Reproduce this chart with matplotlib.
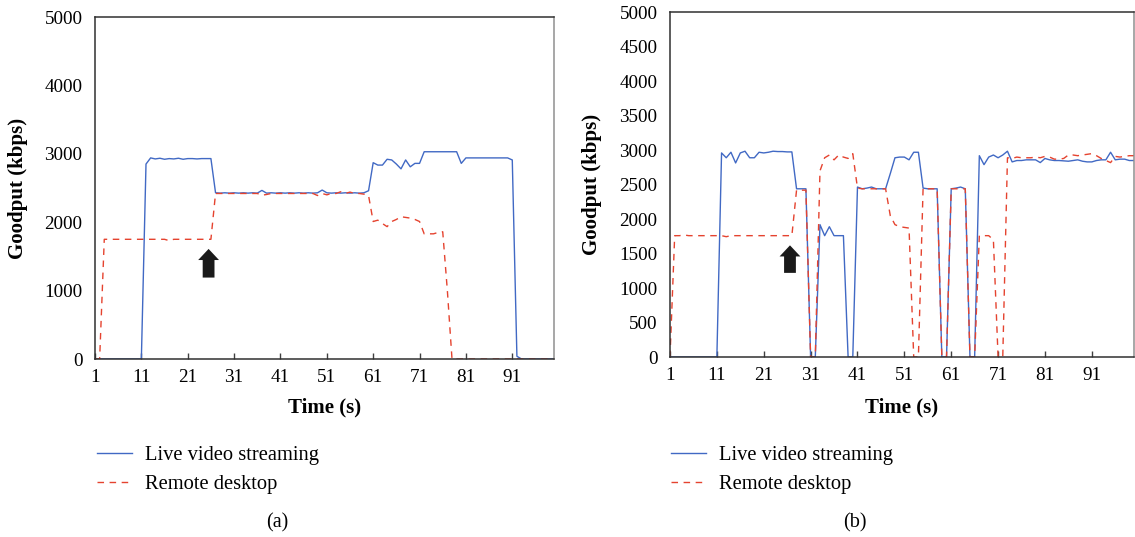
import numpy as np
import matplotlib
matplotlib.use('Agg')
import matplotlib.pyplot as plt
from matplotlib.patches import FancyArrowPatch

plt.rcParams['font.family'] = ['Liberation Serif', 'DejaVu Serif']

# time axis (s)
time = np.arange(1, 101)

# panel (a) goodput, kbps
video_a = ([0] * 11 +
           [2850, 2940, 2925, 2935, 2920, 2930, 2925, 2935, 2920, 2930,
            2930, 2925, 2930, 2930, 2930,
            2430, 2425, 2430, 2425, 2430, 2425, 2430, 2425, 2430, 2425,
            2465, 2425, 2430, 2425, 2430, 2425, 2430, 2425, 2430, 2425,
            2430, 2425, 2430, 2470, 2430, 2425, 2430, 2425, 2430, 2425,
            2430, 2425, 2430,
            2460, 2870, 2835, 2835, 2920, 2910, 2850, 2780, 2910, 2810,
            2860, 2860, 3030, 3030, 3030, 3030, 3030, 3030, 3030, 3030,
            2860, 2940, 2940, 2940, 2940, 2940, 2940, 2940, 2940, 2940,
            2940, 2910, 40] +
           [0] * 8)
desktop_a = ([0, 0, 1750] + [1750] * 13 + [1730] + [1750] * 9 +
             [2420] * 10 + [2395, 2405] + [2420] * 10 +
             [2390, 2420, 2400, 2420, 2420, 2445, 2420, 2440, 2420, 2420,
              2410, 2390, 2010, 2030, 1980, 1935, 2010, 2040, 2080, 2070,
              2060, 2040, 2010, 1830, 1830, 1830, 1850, 1860, 1000] +
             [0] * 23)

# panel (b) goodput, kbps
video_b = ([0] * 11 +
           [2960, 2890, 2970, 2815, 2960, 2985, 2890, 2890, 2970, 2960,
            2970, 2985, 2980, 2980, 2975, 2975,
            2440, 2440, 2440, 0, 0, 1920, 1760, 1890, 1760, 1760, 1760, 0, 0,
            2465, 2440, 2450, 2465, 2440, 2440, 2440, 2660, 2890, 2900,
            2900, 2860, 2970, 2970,
            2450, 2440, 2440, 2440, 0, 0, 2440, 2450, 2465, 2440, 0, 0,
            2920, 2790, 2900, 2930, 2890, 2930, 2985, 2830, 2850, 2850,
            2860, 2860, 2860, 2820, 2880, 2860, 2850, 2850, 2845, 2840,
            2850, 2860, 2840, 2830, 2830, 2850, 2860, 2860, 2970, 2860,
            2870, 2870, 2850, 2850])
desktop_b = ([0, 1760, 1760, 1770] + [1760] * 8 + [1745] + [1760] * 14 +
             [2420, 2420, 2420, 0, 0, 2700, 2890, 2930, 2860, 2930, 2900,
              2880, 2950,
              2450, 2440, 2440, 2440, 2440, 2440, 2440,
              2050, 1920, 1890, 1880, 1870, 0, 0,
              2450, 2440, 2440, 2440, 0, 0, 2440, 2440, 2440, 2440, 0, 0,
              1760, 1760, 1760, 1700, 0, 0,
              2890, 2880, 2900, 2890, 2890, 2890, 2900, 2890, 2910, 2900,
              2870, 2870, 2880, 2930, 2930, 2920, 2930, 2940, 2950, 2920,
              2880, 2850, 2820, 2910, 2900, 2910, 2920, 2920])

# arrow markers (x, tail, tip)
arrow_a = (25.5, 1150, 1650)
arrow_b = (26.6, 1180, 1660)

BLUE = '#4169C4'
RED = '#E5432F'

fig = plt.figure(figsize=(11.35, 5.37), dpi=100)
ax_a = fig.add_axes([95 / 1135, 178 / 537, 459 / 1135, 342 / 537])
ax_b = fig.add_axes([670 / 1135, 180 / 537, 464 / 1135, 344.7 / 537])


def draw(ax, video, desktop, arrow, ystep):
    ax.plot(time, video, color=BLUE, lw=1.0, label='Live video streaming')
    ax.plot(time, desktop, color=RED, lw=1.0, linestyle=(0, (4.7, 4)),
            label='Remote desktop')
    ax.set_xlim(1, 100)
    ax.set_ylim(0, 5000)
    ax.set_xticks(np.arange(1, 100, 10))
    ax.set_yticks(np.arange(0, 5001, ystep))
    ax.tick_params(axis='x', direction='in', length=4, width=1,
                   color='#404040', pad=7, labelsize=13.8)
    ax.tick_params(axis='y', length=0, pad=9, labelsize=13.8)
    for s in ax.spines.values():
        s.set_color('#303030')
        s.set_linewidth(1.1)
    ax.spines['right'].set_color('#909090')
    ax.set_xlabel('Time (s)', fontsize=15, fontweight='bold')
    ax.set_ylabel('Goodput (kbps)', fontsize=15, fontweight='bold')
    x, y0, y1 = arrow
    ax.add_patch(FancyArrowPatch((x, y0), (x, y1),
                                 arrowstyle='simple,head_length=0.8,head_width=1.5,tail_width=0.85',
                                 mutation_scale=10, color='#1a1a1a', lw=0))


draw(ax_a, video_a, desktop_a, arrow_a, 1000)
draw(ax_b, video_b, desktop_b, arrow_b, 500)

ax_a.xaxis.set_label_coords(0.5, -0.113)
ax_b.xaxis.set_label_coords(0.5, -0.118)
ax_a.yaxis.set_label_coords(-0.146, 0.5)
ax_b.yaxis.set_label_coords(-0.147, 0.5)

for ax, lx, cap, cx in [(ax_a, 97, '(a)', 277), (ax_b, 671, '(b)', 855)]:
    ax.legend(loc='upper left', bbox_to_anchor=(lx / 1135, 1 - 446 / 537),
              bbox_transform=fig.transFigure, frameon=False, fontsize=14.8,
              handlelength=1.7, handletextpad=0.65, labelspacing=0.45,
              borderpad=0, borderaxespad=0)
    fig.text(cx / 1135, 1 - 523 / 537, cap, ha='center', va='center',
             fontsize=14.5)

fig.savefig('out.png', dpi=100)
